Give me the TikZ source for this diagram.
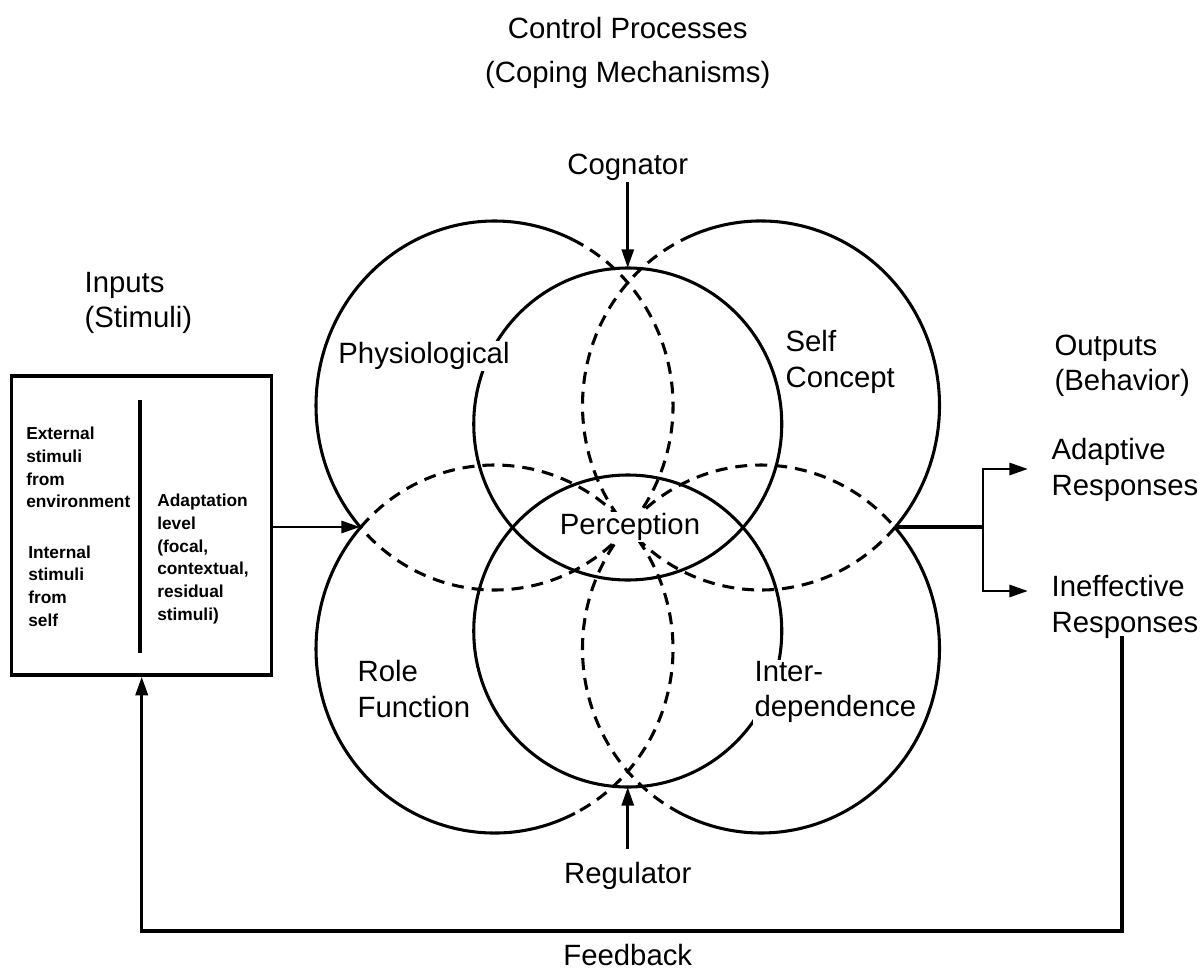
\documentclass[tikz,border=0pt]{standalone}
\usepackage{fontspec}
\setmainfont{Liberation Sans}
\usetikzlibrary{arrows.meta}
\newcommand\myarc[7]{\draw[#1] ([shift={(#6:#4 and #5)}]#2,#3) arc[start angle=#6,end angle=#7,x radius=#4,y radius=#5];}
\begin{document}
\begin{tikzpicture}[x=0.75pt,y=-0.75pt,
  solidc/.style={line width=2.3pt},
  dashc/.style={line width=2.3pt,dash pattern=on 9pt off 6pt},
  arr/.style={line width=2.2pt,-{Triangle[length=14pt,width=9pt]}},
  lbl/.style={font=\fontsize{22}{26.5}\selectfont,inner sep=1pt,align=left},
  small/.style={font=\bfseries\fontsize{13}{17}\selectfont,inner sep=0pt,align=left}]
\useasboundingbox (0,0) rectangle (1201,973);
% big circles
\myarc{solidc}{494.5}{405.5}{178.5}{184.5}{138.8}{296}
\myarc{dashc}{494.5}{405.5}{178.5}{184.5}{296}{498.8}
\myarc{solidc}{761}{405.5}{178.5}{184.5}{-116}{41.2}
\myarc{dashc}{761}{405.5}{178.5}{184.5}{41.2}{244}
\myarc{solidc}{494.5}{649}{178.5}{184}{63.2}{221.5}
\myarc{dashc}{494.5}{649}{178.5}{184}{221.5}{423.2}
\myarc{solidc}{761}{649}{178.5}{184}{-41.5}{116.8}
\myarc{dashc}{761}{649}{178.5}{184}{116.8}{318.5}
% inner circles
\draw[solidc] (627.75,424) ellipse[x radius=154,y radius=156];
\draw[solidc] (627.75,631) ellipse[x radius=154,y radius=156];
% title and control labels
\node[lbl,align=center,font=\fontsize{22}{33}\selectfont] (title) at (627.75,53) {Control Processes\\(Coping Mechanisms)};
\node[lbl] (cog) at (627.75,167) {Cognator};
\coordinate (ctop) at (627.75,268);
\draw[arr] (cog.south) -- (ctop);
\node[lbl] (reg) at (627.75,876) {Regulator};
\coordinate (cbot) at (627.75,787);
\draw[arr,shorten <=9pt] (reg.north) -- (cbot);
% labels in circles
\node[lbl,fill=white] (phys) at (424,356) {Physiological};
\node[lbl,anchor=west] (self) at (784,362) {Self\\Concept};
\node[lbl,fill=white] (perc) at (630,527) {Perception};
\node[lbl,anchor=west] (role) at (356,689) {Role\\Function};
\node[lbl,anchor=west,fill=white] (inter) at (753,692) {Inter-\\dependence};
% inputs
\node[lbl,anchor=west] (inp) at (83,303) {Inputs\\(Stimuli)};
\node[draw,line width=2.4pt,minimum width=195pt,minimum height=224.25pt,inner sep=0pt] (box) at (141.7,525.5) {};
\draw[line width=2.3pt] (140,400) -- (140,653);
\node[small,anchor=west] (ext) at (26,467.5) {External\\stimuli\\from\\environment};
\node[small,anchor=west] (int) at (28,586) {Internal\\stimuli\\from\\self};
\node[small,anchor=west] (adl) at (157,559) {Adaptation\\level\\(focal,\\contextual,\\residual\\stimuli)};
\coordinate (inpt) at (360,527);
\draw[arr] (box.east |- inpt) -- (inpt);
% outputs
\node[lbl,anchor=west] (outs) at (1053,366) {Outputs\\(Behavior)};
\node[lbl,anchor=west] (adap) at (1050,470) {Adaptive\\Responses};
\node[lbl,anchor=west] (ineff) at (1050,607) {Ineffective\\Responses};
\coordinate (outpt) at (895,527);
\coordinate (branch) at (983,527);
\coordinate (tA) at (1028,469);
\coordinate (tI) at (1028,591);
\draw[solidc] (outpt) -- (branch);
\draw[arr] (branch) |- (tA);
\draw[arr] (branch) |- (tI);
% feedback
\coordinate (fbs) at (1122,636);
\coordinate (fbL) at (141.7,931);
\draw[arr,line width=2.6pt] (fbs) -- (fbs |- fbL) -- (fbL) -- (box.south);
\node[lbl] (fb) at (627.75,955) {Feedback};
\end{tikzpicture}
\end{document}
